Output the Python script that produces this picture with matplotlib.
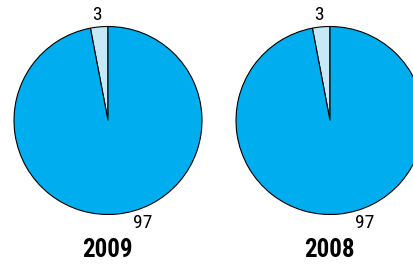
import matplotlib
matplotlib.use("Agg")
import matplotlib.pyplot as plt
from matplotlib import font_manager

years = ["2009", "2008"]
values_2009 = [3, 97]
values_2008 = [3, 97]
series = [values_2009, values_2008]
colors = ["#C6E8F7", "#00AEEF"]

names = {f.name for f in font_manager.fontManager.ttflist}
fam = [f for f in ["Liberation Sans Narrow", "Roboto Condensed", "Liberation Sans", "DejaVu Sans"] if f in names]

fig = plt.figure(figsize=(4.14, 2.65), dpi=100)
ax = fig.add_axes([0, 0, 1, 1])
ax.set_xlim(0, 414)
ax.set_ylim(0, 265)
ax.set_aspect("equal")
ax.axis("off")

centers_x = [108, 330]
cy = 265 - 120.5
r = 94
for cx, vals, yr in zip(centers_x, series, years):
    ax.pie(vals, colors=colors, startangle=90, counterclock=True,
           center=(cx, cy), radius=r, frame=True,
           wedgeprops=dict(edgecolor="black", linewidth=0.8))
    ax.text(cx - 11, 265 - 15, str(vals[0]), ha="center", va="center",
            fontsize=14, family=fam, color="black")
    ax.text(cx + 35, 265 - 223, str(vals[1]), ha="center", va="center",
            fontsize=14, family=fam, color="black")
    ax.text(cx - 1, 265 - 250, yr, ha="center", va="center",
            fontsize=18, fontweight="bold", family=fam, color="black")

ax.set_xlim(0, 414)
ax.set_ylim(0, 265)
ax.axis("off")
fig.savefig("out.png", dpi=100)
